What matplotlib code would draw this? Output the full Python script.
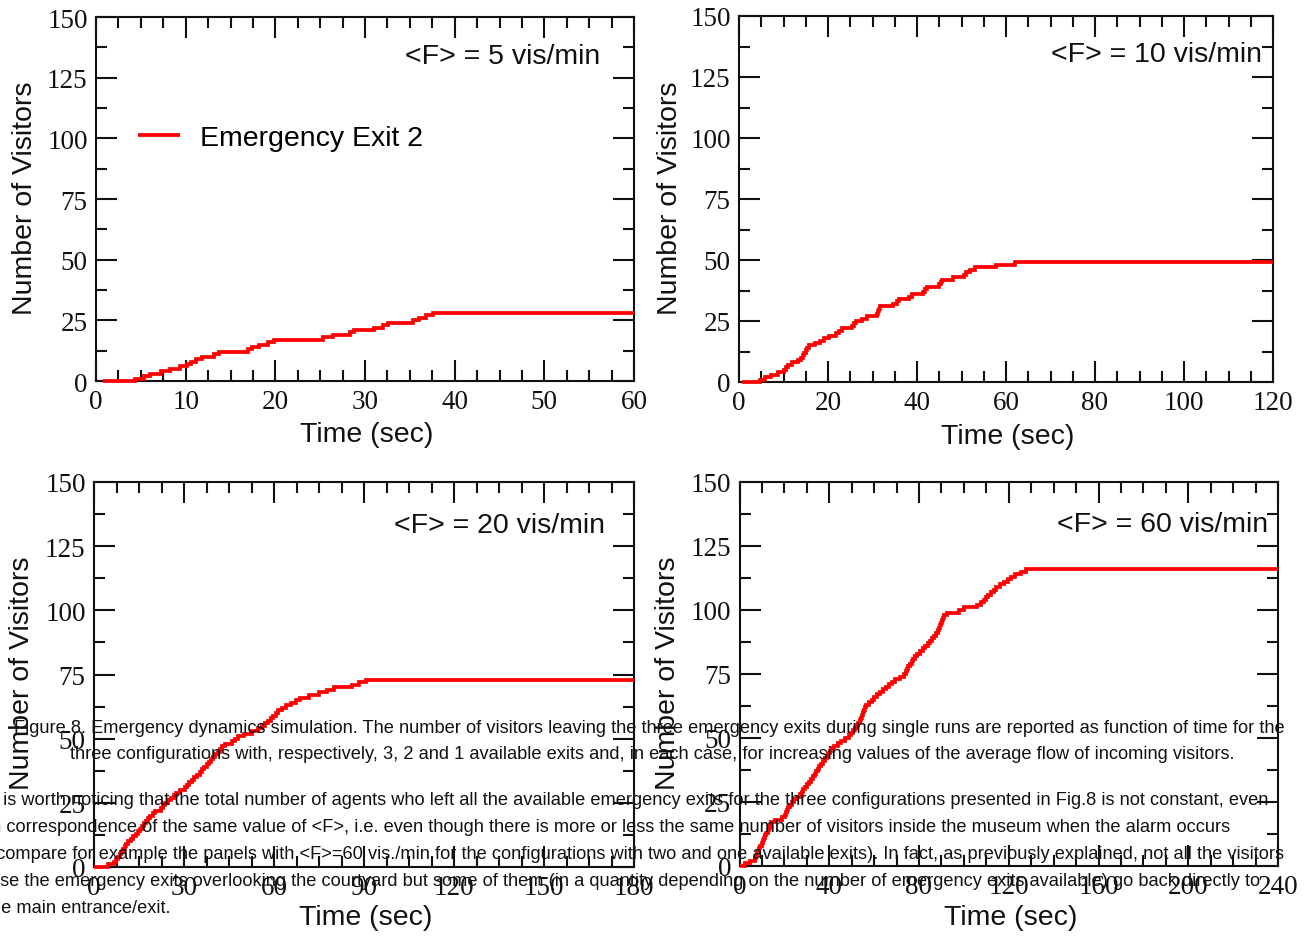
import matplotlib
matplotlib.use("Agg")
import matplotlib.pyplot as plt
from matplotlib.ticker import MultipleLocator
from matplotlib.font_manager import FontProperties
import numpy as np

# ---- data: times (s) at which each successive visitor left through the exit ----
flows = ["<F> = 5 vis/min", "<F> = 10 vis/min", "<F> = 20 vis/min", "<F> = 60 vis/min"]
x_max = [60, 120, 180, 240]
x_major = [10, 20, 30, 40]
t_start = [0.8, 0.6, 0.0, 0.3]

exit_times_f5 = [4.4, 5.3, 6.0, 7.3, 8.3, 9.4, 10.1, 10.6, 11.2, 11.8, 13.2, 13.7,
                 17.0, 17.4, 18.2, 19.2, 19.8, 25.3, 26.4, 28.3, 28.8, 31.0, 32.0,
                 32.6, 35.4, 36.0, 36.8, 37.6]

exit_times_f10 = [4.7, 5.8, 7.3, 8.8, 10.2, 10.5, 10.9, 11.9, 13.3, 14.0, 14.3, 14.7,
                  15.0, 15.3, 15.7, 17.0, 18.3, 19.0, 20.2, 21.8, 22.5, 23.2, 25.5,
                  25.9, 26.2, 27.6, 28.8, 30.9, 31.2, 31.4, 31.7, 34.6, 35.6, 36.0,
                  38.1, 38.8, 41.3, 41.8, 42.3, 45.0, 45.3, 45.6, 48.2, 50.5, 50.9,
                  52.0, 53.0, 57.8, 62.0]

exit_times_f20 = [4.5, 6.5, 7.4, 8.0, 8.6, 9.1, 9.6, 10.2, 10.8, 11.3, 12.2, 13.1,
                  13.9, 14.6, 15.2, 15.9, 16.6, 17.3, 18.0, 18.8, 19.5, 20.2, 22.3,
                  23.0, 23.6, 24.7, 25.8, 26.6, 27.4, 28.5, 30.3, 31.0, 31.7, 32.5,
                  33.4, 34.3, 35.3, 36.1, 36.8, 37.6, 38.2, 38.9, 39.6, 40.4, 41.2,
                  42.0, 42.8, 43.6, 46.0, 47.0, 48.0, 50.0, 52.5, 54.8, 56.0, 57.0,
                  58.1, 59.1, 59.8, 60.6, 61.4, 62.5, 63.9, 65.7, 67.2, 68.6, 71.5,
                  75.0, 77.5, 80.0, 86.0, 88.3, 90.5]

exit_times_f60 = [2.5, 4.5, 6.8, 7.3, 7.8, 8.2, 8.7, 9.3, 9.9, 10.4, 11.0, 11.4,
                  12.0, 12.6, 13.1, 13.7, 14.2, 16.0, 18.8, 20.5, 20.9, 21.3, 21.6,
                  22.4, 23.5, 24.5, 25.7, 26.8, 27.8, 28.5, 29.3, 30.1, 30.8, 31.7,
                  32.7, 33.6, 34.3, 35.0, 35.6, 36.3, 37.2, 38.0, 38.8, 39.5, 40.3,
                  41.0, 42.3, 43.8, 45.4, 47.1, 48.6, 49.5, 50.4, 51.3, 52.2, 52.9,
                  53.5, 54.2, 54.6, 55.0, 55.4, 55.8, 56.6, 57.8, 59.0, 60.1, 61.2,
                  62.6, 64.0, 65.2, 66.6, 67.9, 69.1, 71.5, 73.2, 74.0, 74.7, 75.3,
                  76.0, 76.7, 77.4, 78.1, 79.3, 80.4, 81.6, 82.7, 83.8, 85.0, 86.0,
                  86.8, 87.5, 88.3, 88.9, 89.4, 89.8, 90.2, 90.6, 91.2, 92.5, 98.0,
                  100.2, 106.0, 107.8, 108.8, 109.9, 110.9, 112.2, 113.3, 114.5,
                  116.2, 118.0, 119.5, 121.0, 122.8, 125.5, 127.5]

exit_series = [exit_times_f5, exit_times_f10, exit_times_f20, exit_times_f60]
legend_label = "Emergency Exit 2"

caption_lines = [
    "Figure 8. Emergency dynamics simulation. The number of visitors leaving the three emergency exits during single runs are reported as function of time for the",
    "three configurations with, respectively, 3, 2 and 1 available exits and, in each case, for increasing values of the average flow of incoming visitors.",
]
body_lines = [
    ("It ", "is worth noticing that the total number of agents who left all the available emergency exits for the three configurations presented in Fig.8 is not constant, even"),
    ("in ", "correspondence of the same value of <F>, i.e. even though there is more or less the same number of visitors inside the museum when the alarm occurs"),
    ("(c", "ompare for example the panels with <F>=60 vis./min for the configurations with two and one available exits). In fact, as previously explained, not all the visitors"),
    ("u", "se the emergency exits overlooking the courtyard but some of them (in a quantity depending on the number of emergency exits available) go back directly to"),
    ("th", "e main entrance/exit."),
]

# ---- figure layout (pixel boxes: left, right, top, bottom) ----
W, H = 1311, 937
fig = plt.figure(figsize=(W / 100, H / 100), dpi=100)
boxes = [(96, 634, 18, 382), (739, 1273, 17, 383), (94, 634, 483, 868), (739.5, 1278, 483, 867)]
ylab_x = [25, 670, 22, 668]
xlab_y = [435, 437, 918, 918]
title_pos = [(600, 57), (1262, 55), (605, 526), (1268, 525)]

sans = "Liberation Sans"
serif = "Liberation Serif"
red = "#ff0000"
ink = "#111111"

for i, (l, r, t, b) in enumerate(boxes):
    ax = fig.add_axes([l / W, 1 - b / H, (r - l) / W, (b - t) / H])
    times = exit_series[i]
    xs = [t_start[i]] + list(times) + [x_max[i]]
    ys = [0] + list(range(1, len(times) + 1)) + [len(times)]
    ax.step(xs, ys, where="post", color=red, lw=2.7, label=legend_label,
            solid_joinstyle="miter", solid_capstyle="butt", zorder=3, clip_on=False)
    ax.set_xlim(0, x_max[i])
    ax.set_ylim(0, 150)
    ax.xaxis.set_major_locator(MultipleLocator(x_major[i]))
    ax.xaxis.set_minor_locator(MultipleLocator(x_major[i] / 4))
    ax.yaxis.set_major_locator(MultipleLocator(25))
    ax.yaxis.set_minor_locator(MultipleLocator(12.5))
    ax.tick_params(which="both", direction="in", top=True, right=True, width=1.5,
                   color=ink)
    ax.tick_params(which="major", length=15, pad=6, labelsize=19.5)
    ax.tick_params(which="minor", length=8)
    for lab in ax.get_xticklabels() + ax.get_yticklabels():
        lab.set_fontfamily(serif)
        lab.set_color(ink)
    for sp in ax.spines.values():
        sp.set_linewidth(1.5)
        sp.set_color(ink)

    ax.set_xlabel("Time (sec)", fontsize=20.5, family=sans, color=ink)
    ax.set_ylabel("Number of Visitors", fontsize=20.5, family=sans, color=ink)
    ax.xaxis.label.set_va("center")
    ax.yaxis.label.set_va("center")
    ax.xaxis.set_label_coords(((l + r) / 2 + 2 - l) / (r - l), (b - xlab_y[i]) / (b - t))
    ax.yaxis.set_label_coords((ylab_x[i] - l) / (r - l), 0.505)

    tx, ty = title_pos[i]
    ax.text((tx - l) / (r - l), (b - ty) / (b - t), flows[i], transform=ax.transAxes,
            ha="right", va="center", fontsize=20.5, family=sans, color=ink)

    if i == 0:
        ax.legend(loc="center left", bbox_to_anchor=((138 - l) / (r - l), (b - 139) / (b - t)),
                  frameon=False, prop=FontProperties(family=sans, size=20.5),
                  handlelength=1.47, handletextpad=0.7, borderpad=0, borderaxespad=0)

# ---- paper text running across the figure ----
fs_text = 13.15
fp = FontProperties(family=sans, size=fs_text)
fig.canvas.draw()
renderer = fig.canvas.get_renderer()

def text_width(s):
    w, _, _ = renderer.get_text_width_height_descent(s, fp, ismath=False)
    return w

fig.text(14 / W, 1 - 729 / H, caption_lines[0], fontproperties=fp, ha="left", va="center",
         color=ink)
fig.text(652.5 / W, 1 - 755 / H, caption_lines[1], fontproperties=fp, ha="center", va="center",
         color=ink)

body_y = [801, 828, 855, 882, 909]
body_start = [3, 6, 5.5, 0.5, 1.5]
for (prefix, rest), y, x0 in zip(body_lines, body_y, body_start):
    fig.text((x0 - text_width(prefix)) / W, 1 - y / H, prefix + rest, fontproperties=fp,
             ha="left", va="center", color=ink)

fig.savefig("out.png", dpi=100)
